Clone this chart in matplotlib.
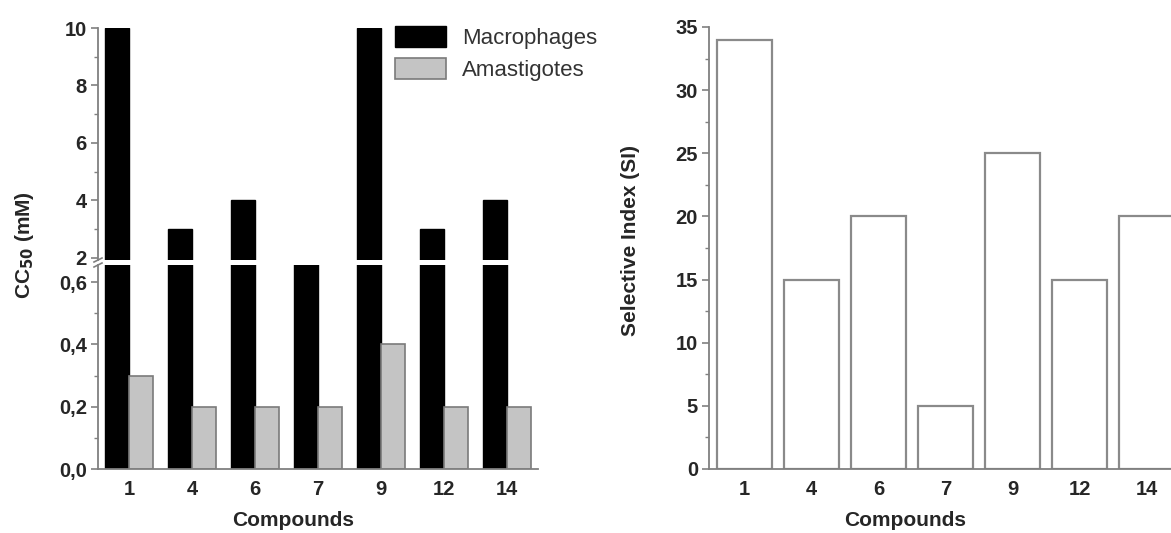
import matplotlib
matplotlib.use("Agg")
import matplotlib.pyplot as plt
import numpy as np
from matplotlib.ticker import MultipleLocator, FuncFormatter

compounds = ["1", "4", "6", "7", "9", "12", "14"]
macrophages = [10, 3, 4, 1.0, 10, 3, 4]
amastigotes = [0.3, 0.2, 0.2, 0.2, 0.4, 0.2, 0.2]
selective_index = [34, 15, 20, 5, 25, 15, 20]

plt.rcParams['font.family'] = ['Liberation Sans', 'DejaVu Sans']
TXT = '#262626'
SP = '#808080'
TICKFS = 14.5

W, H = 1171, 533
fig = plt.figure(figsize=(W / 100, H / 100), dpi=100)

def fx(px):
    return px / W

def fy(py):
    return 1 - py / H

x = np.arange(len(compounds))

def style(ax):
    for s in ['top', 'right']:
        ax.spines[s].set_visible(False)
    for s in ['left', 'bottom']:
        ax.spines[s].set_color(SP)
        ax.spines[s].set_linewidth(1.3)
    ax.tick_params(axis='y', which='major', direction='out', length=5, width=1.2,
                   color=SP, labelsize=TICKFS, labelcolor=TXT, pad=3)
    ax.tick_params(axis='y', which='minor', direction='out', length=3, width=1.0, color=SP)
    ax.tick_params(axis='x', length=0, labelsize=TICKFS, labelcolor=TXT, pad=8)
    for lab in ax.get_yticklabels() + ax.get_xticklabels():
        lab.set_fontweight('bold')

# ---------------- Left chart: broken axis ----------------
xl0, xl1 = -0.49, 6.5
left_px, right_px = 98, 98 + (xl1 - xl0) * 63
ax_lo = fig.add_axes([fx(left_px), fy(469), fx(right_px - left_px), (469 - 265) / H])
ax_hi = fig.add_axes([fx(left_px), fy(260), fx(right_px - left_px), (260 - 28) / H])

bw = 0.385
for ax in (ax_lo, ax_hi):
    ax.bar(x - bw / 2, macrophages, width=bw, color='black', edgecolor='black',
           linewidth=1.0, label='Macrophages')
    ax.bar(x + bw / 2, amastigotes, width=bw, color='#c4c4c4', edgecolor='#7a7a7a',
           linewidth=1.2, label='Amastigotes')
    ax.set_xlim(xl0, xl1)

ax_lo.set_ylim(0, 0.655)
ax_lo.yaxis.set_major_locator(MultipleLocator(0.2))
ax_lo.yaxis.set_minor_locator(MultipleLocator(0.1))
ax_lo.yaxis.set_major_formatter(FuncFormatter(lambda v, p: f"{v:.1f}".replace('.', ',')))
ax_lo.set_xticks(x)
ax_lo.set_xticklabels(compounds)

ax_hi.set_ylim(1.93, 10)
ax_hi.yaxis.set_major_locator(MultipleLocator(2))
ax_hi.yaxis.set_minor_locator(MultipleLocator(1))
ax_hi.set_xticks([])
ax_hi.spines['bottom'].set_visible(False)

style(ax_lo)
style(ax_hi)
ax_hi.tick_params(axis='x', length=0, labelbottom=False)

# break marks on the left spine
for yb in (260, 265):
    fig.add_artist(plt.Line2D([fx(left_px - 4), fx(left_px + 4)],
                              [fy(yb + 2), fy(yb - 2)], color=SP, lw=1.2))

ax_hi.legend(loc='upper left', bbox_to_anchor=(fx(395), fy(26)),
             bbox_transform=fig.transFigure, frameon=False, fontsize=16,
             handlelength=2.3, handleheight=1.05, labelspacing=0.42,
             handletextpad=0.7, borderpad=0, borderaxespad=0,
             labelcolor='#333333')

fig.text(fx(25), fy(245), "CC$_{\\mathbf{50}}$ (mM)", rotation=90, ha='center', va='center',
         fontsize=15, fontweight='bold', color=TXT)
fig.text(fx(293), fy(521), "Compounds", ha='center', va='center',
         fontsize=15, fontweight='bold', color=TXT)

# ---------------- Right chart ----------------
xr0, xr1 = -0.53, 6.6
sp = 67
ax_r = fig.add_axes([fx(709), fy(469), fx((xr1 - xr0) * sp), (469 - 27) / H])
ax_r.bar(x, selective_index, width=0.82, color='white', edgecolor='#8a8a8a', linewidth=1.6)
ax_r.set_xlim(xr0, xr1)
ax_r.set_ylim(0, 35)
ax_r.yaxis.set_major_locator(MultipleLocator(5))
ax_r.yaxis.set_minor_locator(MultipleLocator(2.5))
ax_r.set_xticks(x)
ax_r.set_xticklabels(compounds)
style(ax_r)

fig.text(fx(631), fy(240), "Selective Index (SI)", rotation=90, ha='center', va='center',
         fontsize=15, fontweight='bold', color=TXT)
fig.text(fx(905), fy(520), "Compounds", ha='center', va='center',
         fontsize=15, fontweight='bold', color=TXT)

fig.savefig("out.png", dpi=100)
